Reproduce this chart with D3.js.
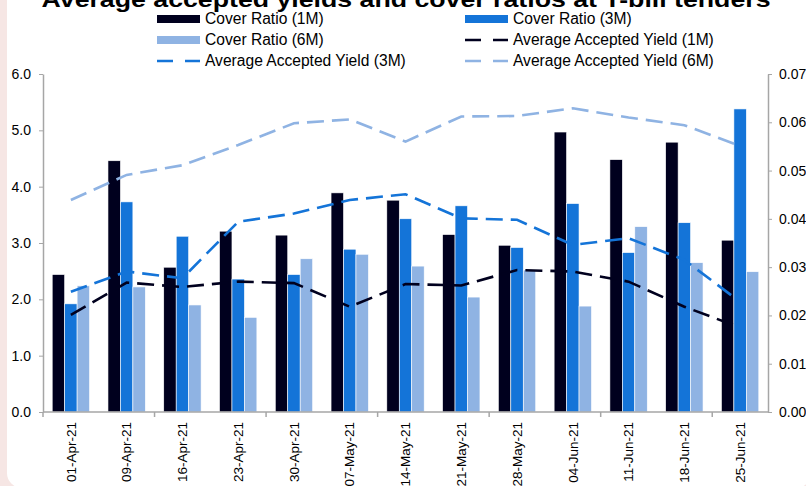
<!DOCTYPE html>
<html>
<head>
<meta charset="utf-8">
<script src="https://cdn.jsdelivr.net/npm/d3@7"></script>
<style>
  body { margin: 0; background: #f6e6e4; }
  svg { display: block; font-family: Arial, "Liberation Sans", sans-serif; }
</style>
</head>
<body>
<div id="chart"></div>
<script>
const width = 806;
const height = 486;
var margin = {top: 74, bottom: 74, left: 43, right: 38};

// ********* DATA *********
const dates = ["01-Apr-21", "09-Apr-21", "16-Apr-21", "23-Apr-21", "30-Apr-21", "07-May-21", "14-May-21",
  "21-May-21", "28-May-21", "04-Jun-21", "11-Jun-21", "18-Jun-21", "25-Jun-21"];
const cover1M = [2.44, 4.46, 2.57, 3.21, 3.14, 3.89, 3.76, 3.15, 2.96, 4.97, 4.48, 4.79, 3.05];
const cover3M = [1.92, 3.73, 3.12, 2.36, 2.44, 2.89, 3.43, 3.66, 2.92, 3.70, 2.83, 3.36, 5.38];
const cover6M = [2.24, 2.22, 1.90, 1.68, 2.72, 2.80, 2.59, 2.04, 2.52, 1.88, 3.29, 2.65, 2.49];
const yield1M = [0.0201, 0.0268, 0.0259, 0.0270, 0.0267, 0.0218, 0.0265, 0.0262, 0.0294, 0.0291, 0.0270, 0.0218, 0.0175];
const yield3M = [0.0249, 0.0291, 0.0277, 0.0394, 0.0411, 0.0439, 0.0451, 0.0401, 0.0398, 0.0346, 0.0360, 0.0315, 0.0228];
const yield6M = [0.0439, 0.0491, 0.0511, 0.0553, 0.0598, 0.0606, 0.0560, 0.0612, 0.0613, 0.0629, 0.0610, 0.0594, 0.0551];
const leftTicks = [0, 1, 2, 3, 4, 5, 6];
const rightTicks = [0, 0.01, 0.02, 0.03, 0.04, 0.05, 0.06, 0.07];

const colors = {'1M': "#00001e", '3M': "#1474d8", '6M': "#8fb3e3"};
const title = "Average accepted yields and cover ratios at T-bill tenders";

var barSeries = [
  {name: "Cover Ratio (1M)", key: '1M', values: cover1M},
  {name: "Cover Ratio (3M)", key: '3M', values: cover3M},
  {name: "Cover Ratio (6M)", key: '6M', values: cover6M}
];
var lineSeries = [
  {name: "Average Accepted Yield (1M)", key: '1M', values: yield1M},
  {name: "Average Accepted Yield (3M)", key: '3M', values: yield3M},
  {name: "Average Accepted Yield (6M)", key: '6M', values: yield6M}
];

// ********* Create SVG *********
var svg = d3.select("#chart").append('svg')
  .attr('width', width)
  .attr('height', height);

// white panel on pink page
svg.append('rect')
  .attr('x', 7).attr('y', -20)
  .attr('width', 804).attr('height', 508)
  .attr('rx', 15)
  .style('fill', '#fff');

// ******** SCALES **********
var x = d3.scaleBand()
  .domain(dates)
  .range([margin.left, width - margin.right]);

var xInner = d3.scaleBand()
  .domain(barSeries.map(function(d){ return d.key; }))
  .range([x.bandwidth() * 0.165, x.bandwidth() * 0.835]);

var yLeft = d3.scaleLinear()
  .domain([0, 6])
  .range([height - margin.bottom, margin.top]);

var yRight = d3.scaleLinear()
  .domain([0, 0.07])
  .range([height - margin.bottom, margin.top]);

// ******** BARS **********
var groups = svg.append('g').attr('class', 'bars')
  .selectAll('g')
  .data(barSeries)
  .enter().append('g')
  .style('fill', function(d){ return colors[d.key]; });

groups.selectAll('rect')
  .data(function(s){
    return s.values.map(function(v, i){ return {key: s.key, date: dates[i], value: v}; });
  })
  .enter().append('rect')
  .attr('x', function(d){ return x(d.date) + xInner(d.key); })
  .attr('width', xInner.bandwidth())
  .attr('y', function(d){ return yLeft(d.value); })
  .attr('height', function(d){ return yLeft(0) - yLeft(d.value); })
  .style('stroke', '#fff')
  .style('stroke-width', 0.6);

// ******** LINES **********
var line = d3.line()
  .x(function(d, i){ return x(dates[i]) + x.bandwidth() / 2; })
  .y(function(d){ return yRight(d); });

svg.append('g').attr('class', 'lines')
  .selectAll('path')
  .data(lineSeries)
  .enter().append('path')
  .attr('d', function(d){ return line(d.values); })
  .style('fill', 'none')
  .style('stroke', function(d){ return colors[d.key]; })
  .style('stroke-width', 2.6)
  .style('stroke-dasharray', '17,8');

// ******** AXES **********
var axisColor = '#a6a6a6';

var leftAxis = svg.append('g')
  .attr('transform', `translate(${margin.left},0)`)
  .call(d3.axisLeft(yLeft).tickValues(leftTicks).tickFormat(d3.format('.1f')).tickSize(4).tickSizeOuter(0).tickPadding(8));

var rightAxis = svg.append('g')
  .attr('transform', `translate(${width - margin.right},0)`)
  .call(d3.axisRight(yRight).tickValues(rightTicks).tickFormat(d3.format('.2f')).tickSize(4).tickSizeOuter(0).tickPadding(7));

// bottom axis: line, ticks every second date, rotated labels
var bottom = svg.append('g').attr('class', 'x-axis');
bottom.append('line')
  .attr('x1', margin.left).attr('x2', width - margin.right)
  .attr('y1', yLeft(0)).attr('y2', yLeft(0));
bottom.selectAll('.tick-mark')
  .data(dates.filter(function(d, i){ return i % 2 == 0; }))
  .enter().append('line')
  .attr('class', 'tick-mark')
  .attr('x1', function(d){ return x(d); })
  .attr('x2', function(d){ return x(d); })
  .attr('y1', yLeft(0)).attr('y2', yLeft(0) + 5);
bottom.selectAll('line').style('stroke', axisColor).style('stroke-width', 1.5);

bottom.selectAll('text')
  .data(dates)
  .enter().append('text')
  .attr('transform', function(d){
    return `translate(${x(d) + x.bandwidth() / 2}, ${yLeft(0) + 10}) rotate(-90)`;
  })
  .attr('dy', '0.35em')
  .style('text-anchor', 'end')
  .style('font-size', '13.5px')
  .style('fill', '#000')
  .text(function(d){ return d; });

[leftAxis, rightAxis].forEach(function(a){
  a.select('.domain').style('stroke', axisColor).style('stroke-width', 1.5);
  a.selectAll('.tick line').style('stroke', axisColor);
  a.selectAll('.tick text').style('font-size', '14px').style('fill', '#000').style('font-family', 'Arial, "Liberation Sans", sans-serif');
});

// ******** TITLE *********
// the title sits partly above the top edge, as in the source picture
svg.append('text')
  .attr('x', 406)
  .attr('y', 7)
  .attr('textLength', 729)
  .attr('lengthAdjust', 'spacingAndGlyphs')
  .style('text-anchor', 'middle')
  .style('font-size', '22px')
  .style('font-weight', 'bold')
  .style('fill', '#000')
  .text(title);

// ******** LEGEND *********
var legendItems = [barSeries[0], barSeries[1], barSeries[2], lineSeries[0], lineSeries[1], lineSeries[2]];
var legend = svg.append('g').attr('id', 'legend');
var entry = legend.selectAll('.entry')
  .data(legendItems)
  .enter().append('g')
  .attr('class', 'entry')
  .attr('transform', function(d, i){
    return `translate(${i % 2 == 0 ? 157 : 465}, ${19 + Math.floor(i / 2) * 21})`;
  });

entry.filter(function(d){ return d.name.indexOf('Cover') == 0; })
  .append('rect')
  .attr('x', 0).attr('y', -4)
  .attr('width', 43).attr('height', 8)
  .style('fill', function(d){ return colors[d.key]; });

entry.filter(function(d){ return d.name.indexOf('Average') == 0; })
  .append('line')
  .attr('x1', 0).attr('x2', 43)
  .attr('y1', 0).attr('y2', 0)
  .style('stroke', function(d){ return colors[d.key]; })
  .style('stroke-width', 2.6)
  .style('stroke-dasharray', '16,12');

entry.append('text')
  .attr('x', 48)
  .attr('dy', '0.35em')
  .style('font-size', '15.6px')
  .style('fill', '#000')
  .text(function(d){ return d.name; });
</script>
</body>
</html>
